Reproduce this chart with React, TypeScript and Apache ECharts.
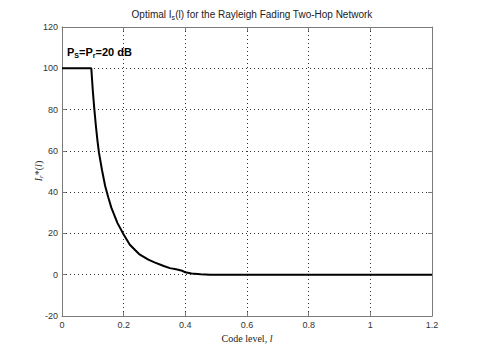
import React, { useEffect, useRef } from "react";
import * as echarts from "echarts";

const codeLevel = [0, 0.095, 0.1, 0.105, 0.11, 0.115, 0.12, 0.13, 0.14, 0.15, 0.16, 0.18, 0.2, 0.22, 0.25, 0.28, 0.3, 0.33, 0.35, 0.37, 0.39, 0.4, 0.42, 0.45, 0.48, 0.6, 0.8, 1.0, 1.2];
const optimalI = [100, 100, 89, 80, 72, 65, 59, 50.5, 43, 37.5, 32.5, 25, 19.5, 14.5, 10, 7.3, 6, 4.2, 3.2, 2.6, 1.9, 1.2, 0.6, 0.2, 0, 0, 0, 0, 0];
const xTicks = [0, 0.2, 0.4, 0.6, 0.8, 1, 1.2];
const yTicks = [-20, 0, 20, 40, 60, 80, 100, 120];

export default function App() {
  const ref = useRef<HTMLDivElement>(null);
  useEffect(() => {
    const chart = echarts.init(ref.current!, null, { renderer: "svg" });
    const axisCommon = {
      axisLine: { show: true, onZero: false, lineStyle: { color: "#7a7a7a", width: 1 } },
      axisTick: { show: true, inside: true, length: 4, lineStyle: { color: "#7a7a7a" } },
    };
    const gridLine = { show: true, showMinLine: false, showMaxLine: false, lineStyle: { type: [1, 3], color: "#333", width: 1 } };
    chart.setOption({
      animation: false,
      backgroundColor: "#fff",
      title: {
        text: "Optimal I{sub|s}(l) for the Rayleigh Fading Two-Hop Network",
        left: 247,
        textAlign: "center",
        top: 3,
        textStyle: {
          fontFamily: "Liberation Sans, Arial",
          fontSize: 10,
          fontWeight: "normal",
          color: "#222",
          rich: { sub: { fontSize: 7, verticalAlign: "bottom", padding: [6, 0, 0, 0], color: "#222", fontFamily: "Liberation Sans" } },
        },
      },
      grid: { left: 62, top: 27, right: 45, bottom: 41 },
      xAxis: [
        {
          type: "value",
          min: 0,
          max: 1.2,
          interval: 0.2,
          ...axisCommon,
          axisLabel: {
            color: "#333",
            fontSize: 9,
            fontFamily: "Liberation Sans, Arial",
            margin: 4,
            formatter: (v: number) => {
              const r = Math.round(v * 10) / 10;
              return xTicks.includes(r) ? String(r) : "";
            },
          },
          splitLine: gridLine,
          name: "Code level, {i|l}",
          nameLocation: "middle",
          nameGap: 17,
          nameTextStyle: {
            fontFamily: "Liberation Serif, Times New Roman, serif",
            fontSize: 10,
            color: "#222",
            rich: { i: { fontStyle: "italic", fontFamily: "Liberation Serif", fontSize: 10, color: "#222" } },
          },
        },
        {
          type: "value",
          position: "top",
          min: 0,
          max: 1.2,
          interval: 0.2,
          ...axisCommon,
          axisLabel: { show: false },
          splitLine: { show: false },
        },
      ],
      yAxis: [
        {
          type: "value",
          min: -20,
          max: 120,
          interval: 20,
          ...axisCommon,
          axisLabel: {
            color: "#333",
            fontSize: 9,
            fontFamily: "Liberation Sans, Arial",
            margin: 4,
            formatter: (v: number) => (yTicks.includes(v) ? String(v) : ""),
          },
          splitLine: gridLine,
        },
        {
          type: "value",
          position: "right",
          min: -20,
          max: 120,
          interval: 20,
          ...axisCommon,
          axisLabel: { show: false },
          splitLine: { show: false },
        },
      ],
      graphic: [
        {
          type: "text",
          x: 38,
          y: 171,
          rotation: Math.PI / 2,
          style: {
            text: "{i|I}{s|r}{n|*(}{i|l}{n|)}",
            fill: "#333",
            fontSize: 10,
            fontFamily: "Liberation Serif",
            align: "center",
            verticalAlign: "middle",
            rich: {
              i: { fontStyle: "italic", fontFamily: "Liberation Serif", fontSize: 10, fill: "#333" },
              s: { fontStyle: "italic", fontFamily: "Liberation Serif", fontSize: 7, fill: "#333", verticalAlign: "bottom", padding: [5, 0, 0, 0] },
              n: { fontFamily: "Liberation Serif", fontSize: 10, fill: "#333" },
            },
          },
        },
        {
          type: "text",
          x: 67,
          y: 45,
          style: {
            text: "{b|P}{s|S}{b|=P}{s|r}{b|=20 dB}",
            fill: "#000",
            rich: {
              b: { fontWeight: "bold", fontFamily: "Liberation Sans", fontSize: 11, fill: "#000" },
              s: { fontWeight: "bold", fontFamily: "Liberation Sans", fontSize: 7, fill: "#000", verticalAlign: "bottom", padding: [7, 0, 0, 0] },
            },
          },
        },
      ],
      series: [
        {
          type: "line",
          data: codeLevel.map((x, i) => [x, optimalI[i]]),
          showSymbol: false,
          smooth: false,
          lineStyle: { color: "#000", width: 2 },
          z: 5,
        },
      ],
    });
    return () => chart.dispose();
  }, []);
  return <div ref={ref} style={{ width: 477, height: 357, position: "absolute", left: 0, top: 0 }} />;
}
